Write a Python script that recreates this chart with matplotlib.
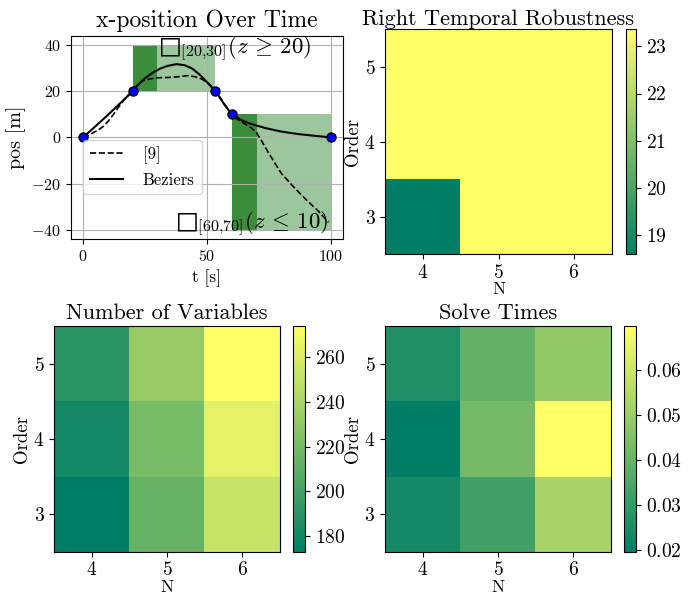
import matplotlib
matplotlib.use("Agg")
import matplotlib.pyplot as plt
from matplotlib.patches import Rectangle
from matplotlib.ticker import MultipleLocator

plt.rcParams.update({
    "font.family": "serif",
    "font.serif": ["cmr10"],
    "mathtext.fontset": "cm",
    "axes.formatter.use_mathtext": True,
})

# waypoints of the trajectory
way_t = [0, 20, 53.4, 60, 100]
way_z = [0, 20, 20, 10, 0]

# Bezier trajectory
bez_t = [0, 5, 10, 15, 20, 22, 25, 28, 31, 34, 37.7, 41, 44, 47, 50, 53.4,
         55, 57, 60, 62, 64, 67, 70, 74, 80, 87, 94, 100]
bez_z = [0, 4.8, 9.7, 14.8, 20, 22.6, 25.6, 27.9, 29.7, 30.9, 31.7, 31.2, 29.8,
         27.2, 23.9, 20, 17.5, 14.2, 10, 8.6, 7.4, 6.1, 5.1, 3.9, 2.5, 1.4, 0.6, 0]

# reference [9] trajectory
ref_t = [0, 2, 4, 6, 8, 10, 12, 14, 16, 18, 20, 22, 24, 27, 30, 34, 38, 42, 45,
         48, 51, 53.4, 56, 60, 62, 65, 68, 70, 72, 75, 80, 85, 90, 95, 99]
ref_z = [0, 0.7, 2.0, 3.1, 4.6, 6.8, 9.6, 12.6, 15.5, 17.9, 20, 22.6, 24.4, 25.3,
         25.8, 25.9, 26.2, 26.7, 26.3, 25.2, 23.0, 20, 16, 10, 8.0, 6.0, 4.0, 2.0,
         -1.5, -7, -15.6, -21.5, -27, -32, -36.8]

# heatmaps: rows are Order 3, 4, 5 ; columns are N 4, 5, 6
n_values = [4, 5, 6]
order_values = [3, 4, 5]
robustness = [[18.6, 23.36, 23.36],
              [23.36, 23.36, 23.36],
              [23.36, 23.36, 23.36]]
num_vars = [[173, 213, 251],
            [181, 221, 263],
            [190, 233, 274]]
solve_times = [[0.0234, 0.0327, 0.0527],
               [0.0196, 0.0427, 0.0698],
               [0.0256, 0.0392, 0.0487]]

W, H = 694, 597
fig = plt.figure(figsize=(W / 100, H / 100), dpi=100)


def px_rect(x0, y0, x1, y1):
    return [x0 / W, 1 - y1 / H, (x1 - x0) / W, (y1 - y0) / H]


# --- x-position over time ---
ax = fig.add_axes(px_rect(70.7, 35.7, 343.3, 239))
light = (0.61, 0.78, 0.61)
dark = (0.23, 0.55, 0.23)
ax.add_patch(Rectangle((20, 20), 33.4, 20, color=light, lw=0))
ax.add_patch(Rectangle((20, 20), 10, 20, color=dark, lw=0))
ax.add_patch(Rectangle((60, -40), 40, 50, color=light, lw=0))
ax.add_patch(Rectangle((60, -40), 10, 50, color=dark, lw=0))
ax.plot(ref_t, ref_z, "k--", lw=1.2, label="[9]")
ax.plot(bez_t, bez_z, "k-", lw=1.5, label="Beziers")
ax.plot(way_t, way_z, "o", color="blue", mec="black", ms=6.5, zorder=5)
ax.text(30.5, 36.5, "$\u25a1_{[20{,}30]}(z\\,\\geq\\,20)$", fontsize=16.5,
        va="baseline")
ax.text(37.3, -39.5, "$\u25a1_{[60{,}70]}(z\\,\\leq\\,10)$", fontsize=16.5,
        va="baseline")
ax.grid(True)
ax.set_xticks([0, 50, 100])
ax.set_title("x-position Over Time", fontsize=17)
ax.set_xlabel("t [s]", fontsize=12.5)
ax.set_ylabel("pos [m]", fontsize=14.5)
ax.tick_params(labelsize=11.5)
ax.legend(loc=(0.045, 0.22), fontsize=12, handletextpad=1.2)


def heatmap(rect, cbar_rect, data, title, title_pad, cbar_step):
    hax = fig.add_axes(px_rect(*rect))
    im = hax.imshow(data, origin="lower", cmap="summer", aspect="auto",
                    extent=[n_values[0] - 0.5, n_values[-1] + 0.5,
                            order_values[0] - 0.5, order_values[-1] + 0.5])
    hax.set_xticks(n_values)
    hax.set_yticks(order_values)
    hax.tick_params(labelsize=14)
    hax.set_xlabel("N", fontsize=12.5, labelpad=0)
    hax.set_ylabel("Order", fontsize=13.5, labelpad=1.5)
    hax.set_title(title, fontsize=16, pad=title_pad)
    cax = fig.add_axes(px_rect(*cbar_rect))
    cb = fig.colorbar(im, cax=cax)
    cb.ax.yaxis.set_major_locator(MultipleLocator(cbar_step))
    cb.ax.tick_params(labelsize=14)
    return hax


heatmap((385.3, 29.3, 611.7, 254), (625.7, 29.3, 636, 254), robustness,
        "Right Temporal Robustness", 3, 1)
heatmap((54.3, 326, 280, 551.7), (293.3, 326, 305, 551.7), num_vars,
        "Number of Variables", 5, 20)
heatmap((385, 326, 611, 551.7), (624.3, 326, 636, 551.7), solve_times,
        "Solve Times", 5, 0.01)

fig.savefig("out.png", dpi=100)
